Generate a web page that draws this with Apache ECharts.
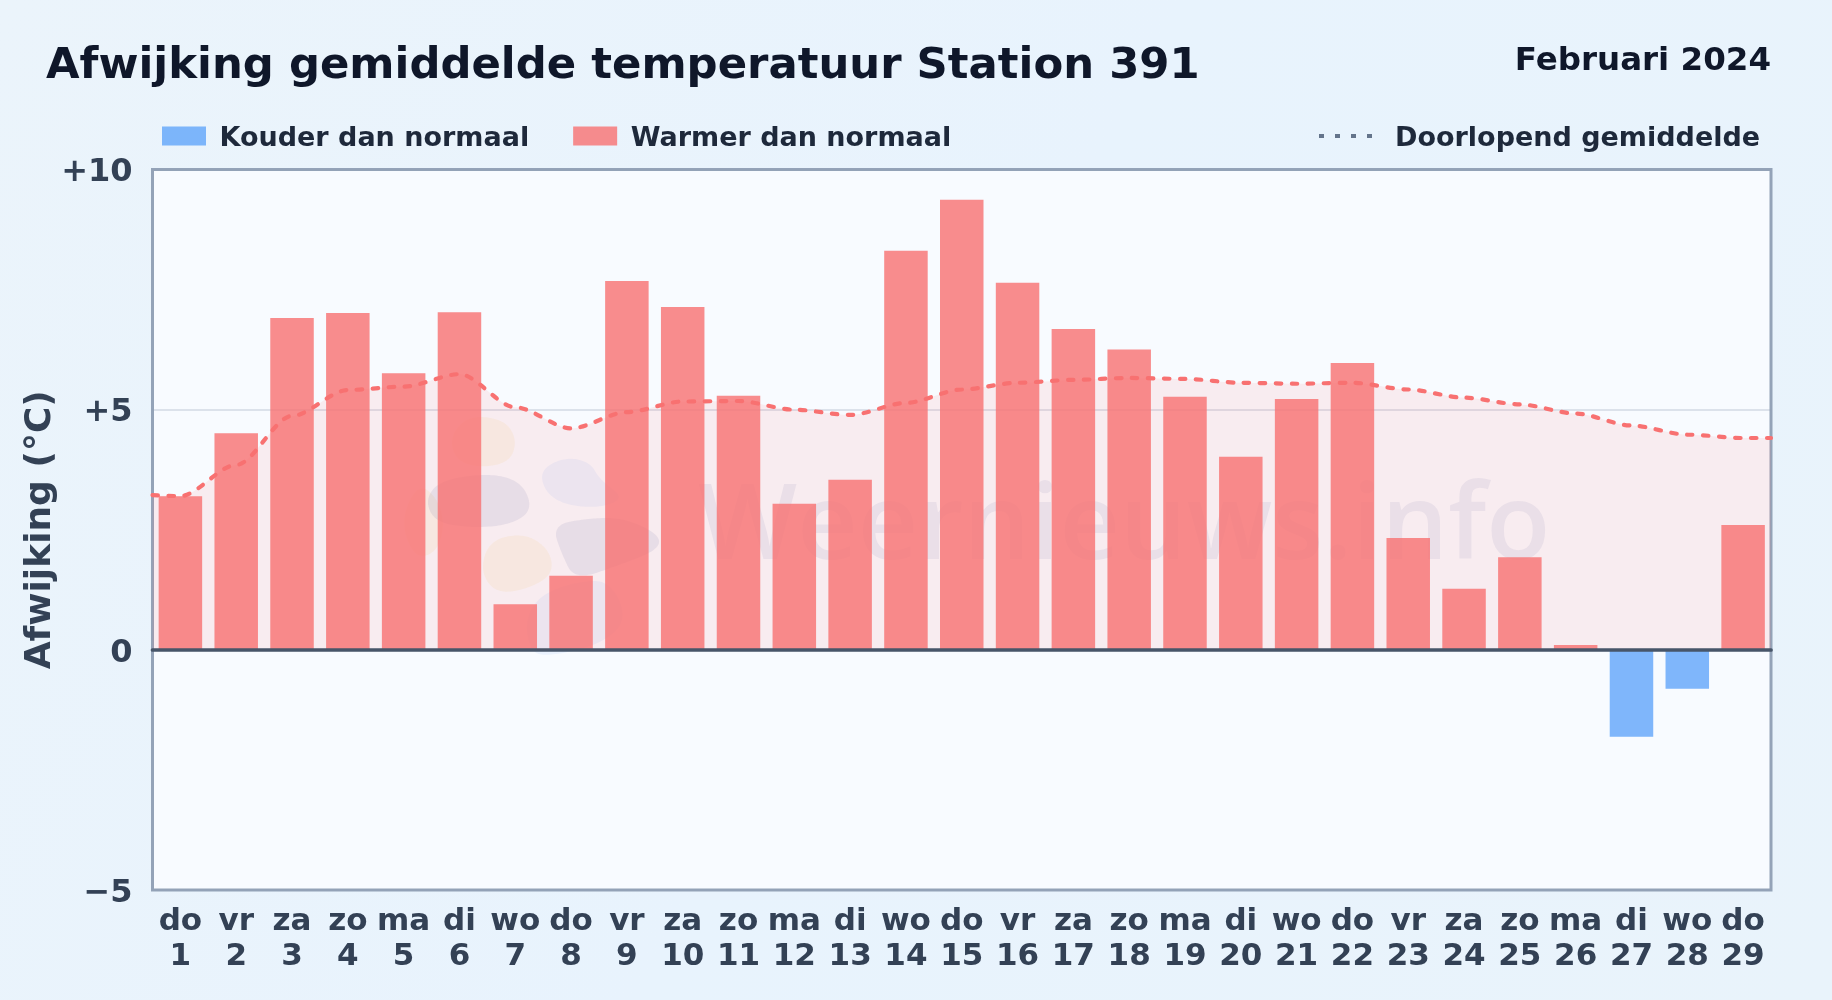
<!DOCTYPE html>
<html><head><meta charset="utf-8">
<style>html,body{margin:0;padding:0;background:#e9f3fc}#c{width:1832px;height:1000px}</style>
<script src="https://cdn.jsdelivr.net/npm/echarts@6/dist/echarts.min.js"></script>
</head><body><div id="c"></div>
<script>
const weekdays = ['do','vr','za','zo','ma','di','wo','do','vr','za','zo','ma','di','wo','do','vr','za','zo','ma','di','wo','do','vr','za','zo','ma','di','wo','do'];
const dates = [1,2,3,4,5,6,7,8,9,10,11,12,13,14,15,16,17,18,19,20,21,22,23,24,25,26,27,28,29];
const warmer = [3.2,4.51,6.91,7.01,5.76,7.03,0.95,1.54,7.68,7.14,5.29,3.04,3.54,8.31,9.37,7.64,6.68,6.25,5.27,4.02,5.22,5.97,2.33,1.27,1.93,0.1,null,null,2.6];
const colder = [null,null,null,null,null,null,null,null,null,null,null,null,null,null,null,null,null,null,null,null,null,null,null,null,null,null,-1.81,-0.81,null];
const trendX = [0.5,1,2,3,4,5,6,7,8,9,10,11,12,13,14,15,16,17,18,19,20,21,22,23,24,25,26,27,28,29,29.5];
const trendY = [3.22,3.2,3.85,4.87,5.41,5.48,5.74,5.05,4.61,4.95,5.17,5.18,5.0,4.89,5.14,5.42,5.56,5.62,5.66,5.64,5.56,5.54,5.56,5.42,5.25,5.11,4.92,4.67,4.48,4.41,4.41];
const yMin = -5, yMax = 10, yStep = 5;
const titleText = 'Afwijking gemiddelde temperatuur Station 391';
const subtitleText = 'Februari 2024';
const font = '"DejaVu Sans"';

const trendPoints = trendX.map((x,i)=>[x,trendY[i]]);
const chart = echarts.init(document.getElementById('c'), null, {renderer:'canvas'});
const wmDark = 'rgba(30,58,138,0.085)', wmYellow = 'rgba(234,179,8,0.07)', wmBlue='rgba(59,130,246,0.07)';
// Rounds the corners of a logo shape (watermark decoration only).
const rounded = pts => {
  let p = pts;
  for (let k=0;k<4;k++) {
    const q = [];
    p.forEach((a,i)=>{ const b = p[(i+1)%p.length];
      q.push([a[0]*.75+b[0]*.25,a[1]*.75+b[1]*.25],[a[0]*.25+b[0]*.75,a[1]*.25+b[1]*.75]); });
    p = q;
  }
  return p;
};
const blob = (points,fill)=>({type:'polygon',shape:{points:rounded(points)},style:{fill},z:1,silent:true});
const legendRich = {t:{fontFamily:font,fontWeight:'bold',fontSize:27,color:'#1e293b',padding:[5,0,0,0]}};
chart.setOption({
  animation:false,
  backgroundColor:{type:'linear',x:0,y:0,x2:1,y2:1,colorStops:[{offset:0,color:'#ebf4fb'},{offset:0.5,color:'#e8f3fd'},{offset:1,color:'#e9f3fb'}]},
  textStyle:{fontFamily:font},
  title:[
    {text:titleText,left:41,top:40,textStyle:{fontFamily:font,fontWeight:'bold',fontSize:43.37,color:'#0f172a'}},
    {text:subtitleText,right:56,top:40,textStyle:{fontFamily:font,fontWeight:'bold',fontSize:32.5,color:'#0f172a'}}
  ],
  legend:[
    {left:157,top:120,itemWidth:44,itemHeight:19,itemGap:44,icon:'rect',
     data:['Kouder dan normaal','Warmer dan normaal'],formatter:n=>'{t|'+n+'}',
     textStyle:{padding:[0,0,0,8.5],rich:legendRich}},
    {left:1312,top:120,itemWidth:58,itemHeight:19,formatter:n=>'{t|'+n+'}',
     data:[{name:'Doorlopend gemiddelde',itemStyle:{color:'transparent',borderWidth:0,opacity:0},lineStyle:{color:'#64748b',width:4,type:[5,11],cap:'butt',opacity:1}}],
     textStyle:{padding:[0,0,0,13],rich:legendRich}}
  ],
  grid:{left:152.5,right:61,top:169.5,bottom:110,show:true,backgroundColor:'#f8fbff',borderColor:'#94a3b8',borderWidth:3},
  xAxis:[
    {type:'category',data:dates.map((d,i)=>weekdays[i]+'\n'+d),position:'bottom',
     axisLine:{show:false,onZero:false},axisTick:{show:false},
     axisLabel:{interval:0,margin:15,fontFamily:font,fontWeight:'bold',fontSize:31,lineHeight:34.5,color:'#334155'}},
    {type:'value',min:0.5,max:29.5,position:'bottom',z:6,
     axisLine:{show:true,onZero:true,lineStyle:{color:'#475569',width:3.7}},
     axisTick:{show:false},axisLabel:{show:false},splitLine:{show:false}}
  ],
  yAxis:{type:'value',min:yMin,max:yMax,interval:yStep,
    name:'Afwijking (°C)',nameLocation:'middle',nameRotate:90,nameGap:94,nameMoveOverlap:false,
    nameTextStyle:{fontFamily:font,fontWeight:'bold',fontSize:36,color:'#334155'},
    axisLine:{show:false},axisTick:{show:false},
    splitLine:{lineStyle:{color:'rgba(148,163,184,0.28)',width:2}},
    axisLabel:{margin:20,
      rich:{v:{fontFamily:font,fontWeight:'bold',fontSize:32,color:'#334155',padding:[7,0,0,0]}},
      formatter:v=>'{v|'+(v>0?'+'+v:(v<0?'\u2212'+Math.abs(v):'0'))+'}'}},
  graphic:[
    blob([[470,415],[505,420],[517,440],[510,462],[480,468],[455,460],[450,435]],wmYellow),
    blob([[420,480],[445,510],[440,550],[415,560],[400,520]],wmYellow),
    blob([[440,480],[490,473],[522,482],[533,510],[510,525],[470,528],[435,522],[425,500]],wmDark),
    blob([[540,470],[565,457],[590,462],[600,480],[625,498],[600,508],[565,505],[545,492]],wmBlue),
    blob([[552,525],[590,518],[625,518],[660,535],[658,550],[620,565],[575,580],[562,555]],wmDark),
    blob([[490,540],[525,533],[550,550],[553,575],[525,590],[495,593],[480,570]],wmYellow),
    blob([[540,595],[575,582],[610,580],[628,620],[600,645],[545,657],[530,650],[525,620]],wmBlue),
    {type:'text',left:698,top:477,silent:true,z:1,style:{text:'Weernieuws.info',font:'600 105px "Open Sans"',fill:'rgba(30,58,138,0.07)'}}
  ],
  series:[
    {name:'trend-area',type:'line',xAxisIndex:1,data:trendPoints,smooth:0.3,smoothMonotone:'x',symbol:'none',z:2,
     lineStyle:{width:0},areaStyle:{color:'rgba(255,107,107,0.14)'},legendHoverLink:false,silent:true},
    {name:'Kouder dan normaal',type:'bar',data:colder,xAxisIndex:0,barWidth:43.5,barGap:'-100%',z:3,itemStyle:{color:'rgba(96,165,250,0.8)'}},
    {name:'Warmer dan normaal',type:'bar',data:warmer,xAxisIndex:0,barWidth:43.5,barGap:'-100%',z:3,itemStyle:{color:'rgba(248,113,113,0.8)'}},
    {name:'Doorlopend gemiddelde',type:'line',xAxisIndex:1,data:trendPoints,smooth:0.3,smoothMonotone:'x',symbol:'none',z:4,
     itemStyle:{color:'#64748b'},lineStyle:{color:'#f87171',width:4.2,type:[5.5,10.5],cap:'round'}}
  ]
});
</script></body></html>
